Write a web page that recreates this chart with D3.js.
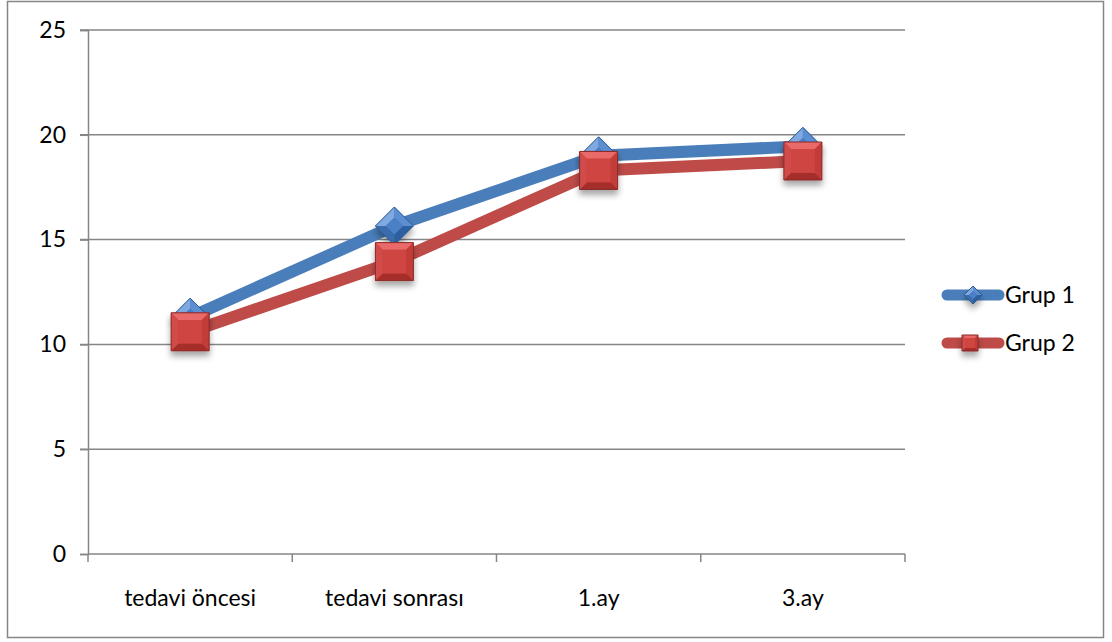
<!DOCTYPE html>
<html>
<head>
<meta charset="utf-8">
<script src="https://cdn.jsdelivr.net/npm/d3@7"></script>
<style>
  html, body { margin: 0; padding: 0; background: #fff; }
  svg { display: block; font-family: Lato, "Open Sans", sans-serif; }
</style>
</head>
<body>
<svg id="chart" width="1112" height="642"></svg>
<script>
// Categories and series values
const categories = ["tedavi öncesi", "tedavi sonrası", "1.ay", "3.ay"];
const grup1 = [11.3, 15.65, 19.0, 19.45];
const grup2 = [10.6, 13.95, 18.3, 18.75];
const seriesNames = ["Grup 1", "Grup 2"];
const yTicks = [0, 5, 10, 15, 20, 25];

const svg = d3.select("#chart");
const plot = { left: 88, right: 905, top: 30, bottom: 554 };
const FONT = 23;

const defs = svg.append("defs");
const sh = defs.append("filter").attr("id", "shadow")
  .attr("x", "-50%").attr("y", "-50%").attr("width", "200%").attr("height", "220%");
sh.append("feDropShadow").attr("dx", 0).attr("dy", 5).attr("stdDeviation", 3)
  .attr("flood-color", "#000").attr("flood-opacity", 0.35);

// Chart border
svg.append("rect").attr("x", 7.5).attr("y", 1.5).attr("width", 1096).attr("height", 636)
  .attr("fill", "#fff").attr("stroke", "#868686").attr("stroke-width", 1.5);

const x = d3.scaleBand().domain(categories).range([plot.left, plot.right]);
const y = d3.scaleLinear().domain([0, 25]).range([plot.bottom, plot.top]);

// Horizontal gridlines
svg.append("g").selectAll("line").data(yTicks.filter(d => d > 0)).join("line")
  .attr("x1", plot.left - 8).attr("x2", plot.right)
  .attr("y1", d => y(d)).attr("y2", d => y(d))
  .attr("stroke", "#868686").attr("stroke-width", 1.5);

// Y axis
const yAxis = svg.append("g").attr("transform", `translate(${plot.left},0)`)
  .call(d3.axisLeft(y).tickValues(yTicks).tickSize(8).tickPadding(14));
yAxis.select(".domain").attr("stroke", "#868686").attr("stroke-width", 1.5);
yAxis.selectAll(".tick line").attr("stroke", "#868686").attr("stroke-width", 1.5);
yAxis.selectAll(".tick text").attr("font-size", FONT).attr("fill", "#000")
  .attr("font-family", "Lato, 'Open Sans', sans-serif");

// X axis with ticks between categories
const xAxis = svg.append("g").attr("transform", `translate(0,${plot.bottom})`);
xAxis.append("line").attr("x1", plot.left).attr("x2", plot.right)
  .attr("stroke", "#868686").attr("stroke-width", 1.5);
const bounds = categories.map(c => x(c)).concat([plot.right]);
xAxis.selectAll("line.tk").data(bounds).join("line").attr("class", "tk")
  .attr("x1", d => d).attr("x2", d => d).attr("y1", 0).attr("y2", 8)
  .attr("stroke", "#868686").attr("stroke-width", 1.5);
xAxis.selectAll("text").data(categories).join("text")
  .attr("x", d => x(d) + x.bandwidth() / 2).attr("y", 52)
  .attr("text-anchor", "middle").attr("font-size", FONT).attr("fill", "#000")
  .text(d => d);

const cx = (d, i) => x(categories[i]) + x.bandwidth() / 2;
const line = d3.line().x((d, i) => cx(d, i)).y(d => y(d));

const colors = ["#4a7ebb", "#be4b48"];

// Bevelled diamond marker
function diamond(g, px, py, r) {
  const m = g.append("g").attr("filter", "url(#shadow)");
  const T = [px, py - r], R = [px + r, py], B = [px, py + r], L = [px - r, py];
  const k = 0.45;
  const I = p => [px + (p[0] - px) * k, py + (p[1] - py) * k];
  const poly = pts => pts.map(p => p.join(",")).join(" ");
  m.append("polygon").attr("points", poly([T, R, B, L])).attr("fill", "#3c6fb0");
  m.append("polygon").attr("points", poly([L, T, I(T), I(L)])).attr("fill", "#7fa9e0");
  m.append("polygon").attr("points", poly([T, R, I(R), I(T)])).attr("fill", "#5c8fd2");
  m.append("polygon").attr("points", poly([R, B, I(B), I(R)])).attr("fill", "#2f5f9e");
  m.append("polygon").attr("points", poly([B, L, I(L), I(B)])).attr("fill", "#3a6cab");
  m.append("polygon").attr("points", poly([I(T), I(R), I(B), I(L)])).attr("fill", "#4a80c6");
  m.append("polygon").attr("points", poly([T, R, B, L])).attr("fill", "none")
    .attr("stroke", "#2d5a94").attr("stroke-width", 1);
}

// Bevelled square marker
function square(g, px, py, r) {
  const m = g.append("g").attr("filter", "url(#shadow)");
  const k = 0.62;
  const o = [[px - r, py - r], [px + r, py - r], [px + r, py + r], [px - r, py + r]];
  const i = o.map(p => [px + (p[0] - px) * k, py + (p[1] - py) * k]);
  const poly = pts => pts.map(p => p.join(",")).join(" ");
  m.append("polygon").attr("points", poly(o)).attr("fill", "#c8403d");
  m.append("polygon").attr("points", poly([o[0], o[1], i[1], i[0]])).attr("fill", "#e96a67");
  m.append("polygon").attr("points", poly([o[1], o[2], i[2], i[1]])).attr("fill", "#c23c39");
  m.append("polygon").attr("points", poly([o[2], o[3], i[3], i[2]])).attr("fill", "#a52f2c");
  m.append("polygon").attr("points", poly([o[3], o[0], i[0], i[3]])).attr("fill", "#d04b48");
  m.append("polygon").attr("points", poly(i)).attr("fill", "#cf4542");
  m.append("polygon").attr("points", poly(o)).attr("fill", "none")
    .attr("stroke", "#8a2a28").attr("stroke-width", 1);
}

const series = [grup1, grup2];
const lines = svg.append("g");
series.forEach((s, si) => {
  lines.append("path").datum(s).attr("d", line).attr("fill", "none")
    .attr("stroke", colors[si]).attr("stroke-width", 12)
    .attr("stroke-linejoin", "round").attr("stroke-linecap", "round");
});
const marks = svg.append("g");
grup1.forEach((v, i) => diamond(marks, cx(v, i), y(v), 19));
grup2.forEach((v, i) => square(marks, cx(v, i), y(v), 19));

// Legend
const leg = svg.append("g");
seriesNames.forEach((name, i) => {
  const ly = 295 + i * 48;
  leg.append("line").attr("x1", 947).attr("x2", 999).attr("y1", ly).attr("y2", ly)
    .attr("stroke", colors[i]).attr("stroke-width", 11).attr("stroke-linecap", "round");
  if (i === 0) diamond(leg, 973, ly, 9);
  else square(leg, 970, ly, 8);
  leg.append("text").attr("x", 1005).attr("y", ly + 8).attr("font-size", FONT)
    .attr("fill", "#000").text(name);
});
</script>
</body>
</html>
